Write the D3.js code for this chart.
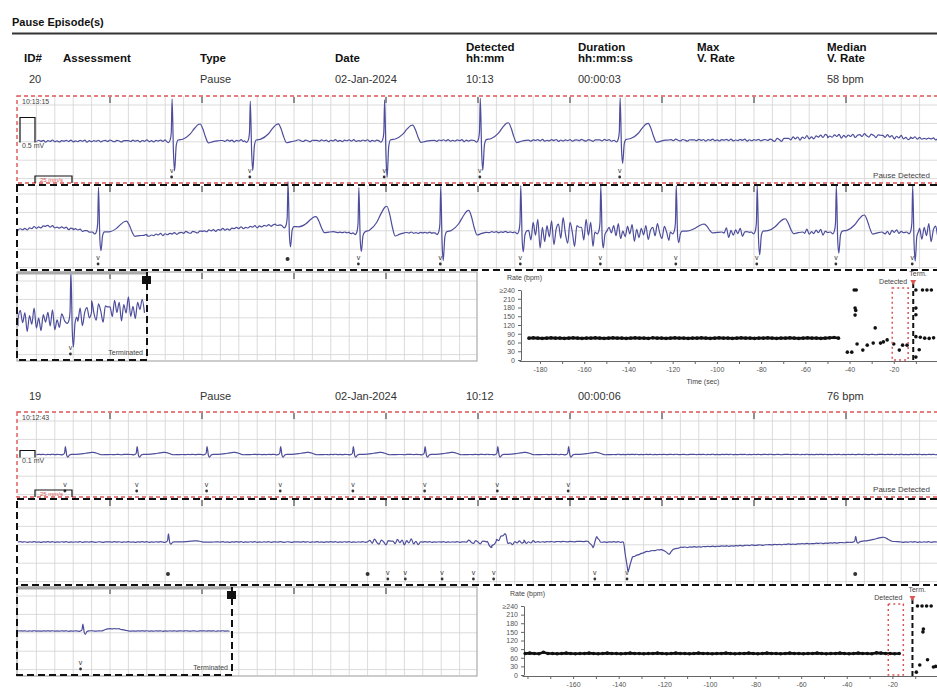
<!DOCTYPE html>
<html>
<head>
<meta charset="utf-8">
<script src="https://cdn.jsdelivr.net/npm/d3@7"></script>
<style>
body { margin: 0; background: #fff; }
svg { display: block; font-family: "Liberation Sans", Arial, sans-serif; }
.hdr { font-weight: bold; font-size: 11.5px; fill: #111; }
.val { font-size: 11px; fill: #333; }
.tiny { font-size: 7px; fill: #444; }
.grid line { stroke: #d2d2d2; stroke-width: 0.8; }
.trace { fill: none; stroke: #4d4d9c; stroke-width: 1.2; stroke-linejoin: round; }
.axis text { font-size: 7px; fill: #555; }
.axis path, .axis line { stroke: #666; }
</style>
</head>
<body>
<svg id="chart" width="937" height="693"></svg>
<script>
// ---- table text
var headerLabels = [["ID#"], ["Assessment"], ["Type"], ["Date"], ["Detected", "hh:mm"], ["Duration", "hh:mm:ss"], ["Max", "V. Rate"], ["Median", "V. Rate"]];
var ep20Row = ["20", "", "Pause", "02-Jan-2024", "10:13", "00:00:03", "", "58 bpm"];
var ep19Row = ["19", "", "Pause", "02-Jan-2024", "10:12", "00:00:06", "", "76 bpm"];
var ep20Clock = "10:13:15", ep19Clock = "10:12:43";

// ---- ecg strips (time in sec from strip start, mV)
// beats: [time, R, S, T]
var ep20S1Beats = [[1.67, 1.55, -1.1, 0.62], [2.52, 1.45, -1.1, 0.62], [3.98, 1.5, -1.35, 0.57], [5.02, 1.55, -1.1, 0.65], [6.54, 1.55, -0.85, 0.62]];
var ep20S1Drift = [[0, -0.06], [8.2, -0.02], [8.8, 0.12], [9.3, 0.15], [9.7, 0.05], [10.2, 0]];
var ep20S1Noise = [[0, 10.2, 0.04], [8.2, 9.8, 0.08]];
var ep20S1Marks = [[1.67, "v"], [2.52, "v"], [3.98, "v"], [5.02, "v"], [6.54, "v"]];

var ep20S2Beats = [[0.87, 1.7, -0.68, 0.49], [2.93, 1.7, -0.75, 0.52], [3.70, 1.7, -0.7, 1.0], [4.59, 1.75, -1.05, 0.83], [5.46, 1.75, -0.75, 0],
  [6.33, 1.75, -0.6, 0], [7.15, 1.75, -0.4, 0.3], [8.03, 1.75, -0.86, 0.5], [8.89, 1.75, -0.8, 0.64], [9.72, 1.75, -1.1, 0]];
var ep20S2Drift = [[0, -0.1], [0.3, 0.05], [0.6, -0.05], [0.8, -0.17], [1.4, -0.3], [2.0, -0.15], [2.8, 0.1], [3.2, -0.1], [3.6, -0.2], [4.5, -0.2], [5.4, -0.17], [10.2, -0.17]];
var ep20S2Noise = [[0, 2.8, 0.05], [5.55, 6.3, 0.6], [6.4, 7.1, 0.35], [7.25, 7.9, 0.2], [8.15, 8.8, 0.12], [9.0, 9.6, 0.12], [9.8, 10.2, 0.45]];
var ep20S2Marks = [[0.87, "v"], [2.93, "d"], [3.70, "v"], [4.59, "v"], [5.46, "v"], [6.33, "v"], [7.15, "v"], [8.03, "v"], [8.89, "v"], [9.72, "v"]];

var ep20S3Beats = [[0.57, 1.8, -1.0, 0]];
var ep20S3Drift = [[0, -0.15], [0.55, -0.2], [0.8, 0.15], [1.4, 0.3]];
var ep20S3Noise = [[0, 1.4, 0.45]];
var ep20S3Marks = [[0.57, "v"]];

var ep19S1Beats = [[0.51, 0.3, -0.1, 0.08], [1.29, 0.3, -0.1, 0.08], [2.05, 0.3, -0.1, 0.08], [2.85, 0.3, -0.1, 0.08],
  [3.64, 0.3, -0.1, 0.08], [4.42, 0.3, -0.1, 0.08], [5.21, 0.3, -0.1, 0.08], [5.98, 0.3, -0.1, 0.08]];
var ep19S1Drift = [[0, 0], [10.2, 0]];
var ep19S1Noise = [[0, 10.2, 0.01]];
var ep19S1Marks = [[0.51, "v"], [1.29, "v"], [2.05, "v"], [2.85, "v"], [3.64, "v"], [4.42, "v"], [5.21, "v"], [5.98, "v"]];

var ep19S2Beats = [[1.63, 0.3, -0.08, 0.04], [9.10, 0.2, -0.05, 0.1]];
var ep19S2Drift = [[0, 0], [5.1, 0], [5.15, -0.2], [5.2, 0.05], [5.29, 0.3], [5.33, -0.05], [5.5, 0], [6.2, 0.02], [6.25, -0.2], [6.29, 0.2], [6.33, 0],
  [6.58, 0], [6.63, -1.1], [6.68, -0.55], [6.84, -0.35], [7.0, -0.28], [7.08, -0.45], [7.12, -0.28], [7.2, -0.2], [7.7, -0.15], [8.42, -0.08],
  [9.0, -0.02], [9.4, 0.08], [9.6, 0], [10.2, 0]];
var ep19S2Noise = [[0, 10.2, 0.015], [3.8, 4.35, 0.12], [4.9, 5.65, 0.08]];
var ep19S2Marks = [[1.63, "d"], [3.80, "d"], [4.02, "v"], [4.21, "v"], [4.61, "v"], [4.95, "v"], [5.17, "v"], [6.27, "v"], [6.62, "v"], [9.10, "d"]];

var ep19S3Beats = [[0.70, 0.25, -0.12, 0]];
var ep19S3Drift = [[0, 0], [0.9, 0], [0.98, 0.08], [1.1, 0.08], [1.2, 0], [2.32, 0]];
var ep19S3Noise = [[0, 2.32, 0.01]];
var ep19S3Marks = [[0.68, "v"]];

// shape of one beat: [dt, part, factor]
var beatShape = [[-0.06, "r", 0], [-0.035, "r", -0.04], [-0.015, "r", 0.03], [-0.004, "r", 0.2], [0.005, "r", 1],
  [0.02, "s", 0.4], [0.032, "s", 1], [0.05, "s", 0.15], [0.07, "r", 0.02],
  [0.12, "w", 0.1], [0.2, "w", 0.4], [0.25, "w", 0.75], [0.29, "w", 0.97], [0.31, "w", 1], [0.34, "w", 0.7], [0.37, "w", 0.2], [0.4, "w", -0.12], [0.45, "w", -0.05], [0.5, "w", 0]];
var jitter = [0.3, -0.5, 0.8, -0.2, 0.6, -0.9, 0.4, -0.3, 1.0, -0.6, 0.2, -0.8, 0.5, -0.1, 0.7, -0.4, 0.9, -0.7, 0.1, -0.5, 0.6,
  -0.2, 0.8, -1.0, 0.3, -0.6, 0.4, -0.3, 0.7, -0.8, 0.2, 0.5, -0.4, 0.9, -0.1, -0.7, 0.6, 0.0, -0.9, 0.4, 0.3];

// ---- rate charts (bpm, one value each 2 sec from the start time)
var rateTicks = [0, 30, 60, 90, 120, 150, 180, 210, 240];
var ep20RateStart = -185;
var ep20Rate = [75, 76, 75, 74, 75, 76, 75, 75, 74, 75,
  76, 75, 74, 75, 75, 76, 75, 74, 75, 76,
  75, 75, 74, 75, 76, 75, 75, 74, 76, 75,
  75, 74, 75, 76, 75, 75, 74, 75, 75, 76,
  75, 74, 75, 76, 75, 75, 74, 75, 76, 75,
  75, 74, 75, 75, 76, 75, 74, 75, 75, 76,
  75, 74, 75, 76, 75, 75, 74, 75, 76, 77, 75];
var ep20Scatter = [[-41, 27], [-39, 27], [-37.9, 240], [-37, 240], [-37.5, 178], [-37.2, 170], [-37.5, 154], [-36.6, 55], [-34, 34], [-32, 51],
  [-29.3, 58], [-28.4, 110], [-26, 58], [-24.7, 62], [-23, 69], [-20, 55], [-17.5, 34], [-16, 51], [-14, 51],
  [-10, 240], [-7, 240], [-5, 240], [-3, 240], [-10, 178], [-10, 155], [-10, 80], [-8, 78], [-6, 75], [-4, 74], [-2, 76], [-8.5, 35], [-10, 10]];
var ep20Detect = [-20.7, -13.5], ep20Term = -11.2;
var ep20TimeLabels = [-180, -160, -140, -120, -100, -80, -60, -40, -20];

var ep19RateStart = -181;
var ep19Rate = [75, 76, 75, 74, 79, 75, 75, 74, 75, 76,
  75, 74, 75, 75, 76, 75, 74, 75, 76, 75,
  75, 74, 75, 76, 75, 75, 74, 75, 75, 76,
  75, 74, 75, 76, 75, 75, 74, 75, 76, 75,
  75, 74, 75, 75, 76, 75, 74, 75, 75, 76,
  75, 74, 75, 76, 75, 75, 74, 75, 76, 75,
  75, 74, 75, 75, 76, 75, 74, 75, 75, 76,
  75, 74, 75, 76, 75, 75, 74, 77, 76, 75,
  75, 74, 75];
var ep19Scatter = [[-9, 240], [-7, 240], [-5, 240], [-3, 240], [-6.4, 160], [-6.6, 150], [-4.6, 53], [-8, 35], [-2, 28], [-1, 30], [-9.5, 10]];
var ep19Detect = [-21.8, -15.2], ep19Term = -11.2;
var ep19TimeLabels = [-160, -140, -120, -100, -80, -60, -40, -20];

window.onload = function() {
	var svg = d3.select("#chart");
	var red = "#dd5555";
	var colX = [24, 63, 200, 335, 466, 578, 697, 827];
	var xT = d3.scaleLinear().domain([0, 10]).range([18, 938]);

	// title
	svg.append("text").attr("class", "hdr").attr("x", 12).attr("y", 26).style("font-size", "11px").text("Pause Episode(s)");
	svg.append("line").attr("x1", 12).attr("x2", 937).attr("y1", 33.5).attr("y2", 33.5).attr("stroke", "#333").attr("stroke-width", 1.8);

	// column headers
	headerLabels.forEach(function(lab, i) {
		lab.forEach(function(t, j) {
			svg.append("text").attr("class", "hdr").attr("x", colX[i])
				.attr("y", 62 - (lab.length - 1 - j) * 11).text(t);
		});
	});

	function drawRow(row, y) {
		row.forEach(function(t, i) {
			svg.append("text").attr("class", "val").attr("x", i == 0 ? colX[0] + 5 : colX[i]).attr("y", y).text(t);
		});
	}

	function buildTrace(beatsIn, drift, noise, from, to) {
		var base = d3.scaleLinear().domain(drift.map(function(d) { return d[0]; }))
			.range(drift.map(function(d) { return d[1]; })).clamp(true);
		var beats = beatsIn.map(function(b) { return {at: b[0], r: b[1], s: b[2], w: b[3]}; });
		function inBeat(t) {
			return beats.some(function(b) { return t > b.at - 0.07 && t < b.at + (b.w ? 0.52 : 0.08); });
		}
		var pts = [], i = 0;
		for (var t = from; t <= to + 1e-6; t += 0.025) {
			i++;
			if (inBeat(t)) continue;
			var amp = 0.03;
			noise.forEach(function(n) { if (t >= n[0] && t <= n[1]) amp = n[2]; });
			pts.push([t, base(t) + jitter[i % jitter.length] * amp]);
		}
		drift.forEach(function(d) {
			if (d[0] >= from && d[0] <= to && !inBeat(d[0])) pts.push([d[0], d[1]]);
		});
		beats.forEach(function(b) {
			beatShape.forEach(function(s) {
				if (!b.w && s[0] > 0.07) return;
				var t = b.at + s[0];
				if (t < from || t > to) return;
				pts.push([t, base(t) + s[2] * b[s[1]]]);
			});
		});
		pts.sort(function(a, b) { return a[0] - b[0]; });
		return pts;
	}

	function drawGrid(x0, x1, y0, y1) {
		var g = svg.append("g").attr("class", "grid");
		var vx = d3.range(0, 10.4, 0.2).map(xT).filter(function(x) { return x > x0 + 1 && x < x1 - 1; });
		g.selectAll(".gv").data(vx).enter().append("line")
			.attr("x1", function(d) { return d; }).attr("x2", function(d) { return d; })
			.attr("y1", y0).attr("y2", y1);
		var hy = d3.range(y0 + 9, y1 - 2, 18.4);
		g.selectAll(".gh").data(hy).enter().append("line")
			.attr("x1", x0).attr("x2", x1)
			.attr("y1", function(d) { return d; }).attr("y2", function(d) { return d; });
		// second ticks at the top
		var sx = d3.range(1, 11).map(xT).filter(function(x) { return x > x0 + 2 && x < x1; });
		svg.append("g").selectAll("line").data(sx).enter().append("line")
			.attr("x1", function(d) { return d; }).attr("x2", function(d) { return d; })
			.attr("y1", y0 + 1).attr("y2", y0 + 7).attr("stroke", "#333").attr("stroke-width", 1);
	}

	function drawTrace(beats, drift, noise, marks, from, to, y0, y1) {
		var ys = d3.scaleLinear().domain([-1.6, 1.6]).range([y1, y0]);
		var line = d3.line().curve(d3.curveMonotoneX)
			.x(function(d) { return xT(d[0]); }).y(function(d) { return ys(d[1]); });
		svg.append("path").datum(buildTrace(beats, drift, noise, from, to)).attr("class", "trace").attr("d", line);
		var mg = svg.append("g");
		marks.forEach(function(m) {
			if (m[1] == "v") {
				mg.append("text").attr("x", xT(m[0])).attr("y", y1 - 10).attr("text-anchor", "middle")
					.style("font-size", "7px").attr("fill", "#333").text("v");
				mg.append("circle").attr("cx", xT(m[0])).attr("cy", y1 - 6).attr("r", 1.4).attr("fill", "#333");
			} else {
				mg.append("circle").attr("cx", xT(m[0])).attr("cy", y1 - 11).attr("r", 2).attr("fill", "#333");
			}
		});
	}

	function drawRate(cfg, rate, start, scatter, detect, term, labels) {
		var x = d3.scaleLinear().domain(cfg.rateDomain).range(cfg.rateX);
		var y = d3.scaleLinear().domain([0, 240]).range(cfg.rateY);
		var g = svg.append("g");
		var minor = d3.range(-180, 1, 10).filter(function(d) { return d >= cfg.rateDomain[0]; });
		g.append("g").attr("class", "axis").attr("transform", "translate(0," + (cfg.rateY[0] + 1) + ")")
			.call(d3.axisBottom(x).tickValues(minor).tickSize(3).tickSizeOuter(0)
				.tickFormat(function(d) { return labels.indexOf(d) >= 0 ? d : ""; }));
		g.append("g").attr("class", "axis").attr("transform", "translate(" + (cfg.rateX[0] + 2) + ",0)")
			.call(d3.axisLeft(y).tickValues(rateTicks).tickSize(3).tickSizeOuter(0)
				.tickFormat(function(d) { return d == 240 ? "\u2265240" : d; }));
		g.append("text").attr("class", "tiny").attr("x", cfg.rateX[0] - 12).attr("y", cfg.rateY[1] - 10).text("Rate (bpm)");
		if (cfg.rateY[0] + 24 < 690) {
			g.append("text").attr("class", "tiny").attr("x", 703).attr("y", cfg.rateY[0] + 24).attr("text-anchor", "middle").text("Time (sec)");
		}

		var pts = rate.map(function(v, i) { return [start + i * 2, v]; });
		g.append("path").datum(pts).attr("fill", "none").attr("stroke", "#111").attr("stroke-width", 2.6)
			.attr("d", d3.line().x(function(d) { return x(d[0]); }).y(function(d) { return y(d[1]); }));
		g.selectAll(".dot").data(pts.concat(scatter)).enter().append("circle")
			.attr("cx", function(d) { return x(d[0]); }).attr("cy", function(d) { return y(d[1]); })
			.attr("r", 1.8).attr("fill", "#111");

		// detected window and termination
		g.append("rect").attr("x", x(detect[0])).attr("y", cfg.rateY[1] - 2)
			.attr("width", x(detect[1]) - x(detect[0])).attr("height", cfg.rateY[0] - cfg.rateY[1] + 2)
			.attr("fill", "none").attr("stroke", red).attr("stroke-width", 1.5).attr("stroke-dasharray", "2,3");
		g.append("line").attr("x1", x(term)).attr("x2", x(term)).attr("y1", cfg.rateY[1] - 7).attr("y2", cfg.rateY[0] + 2)
			.attr("stroke", "#111").attr("stroke-width", 2).attr("stroke-dasharray", "5,3");
		g.append("path").attr("d", "M" + (x(term) - 3) + "," + (cfg.rateY[1] - 10) + "h6l-3,5z").attr("fill", red);
		g.append("text").attr("class", "tiny").attr("x", x(detect[1]) - 1).attr("y", cfg.rateY[1] - 6)
			.attr("text-anchor", "end").text("Detected");
		g.append("text").attr("class", "tiny").attr("x", x(term) - 4).attr("y", cfg.rateY[1] - 14).text("Term.");
	}

	function drawEpisode(cfg) {
		drawRow(cfg.row, cfg.rowY);
		var s1 = cfg.s1, s2 = cfg.s2, s3 = cfg.s3;

		// strip 1
		drawGrid(17, 937, s1[0], s1[1]);
		drawTrace(cfg.b1, cfg.d1, cfg.n1, cfg.m1, 0.2, 10.2, s1[0], s1[1]);
		svg.append("rect").attr("x", 17).attr("y", s1[0]).attr("width", 925).attr("height", s1[1] - s1[0])
			.attr("fill", "none").attr("stroke", red).attr("stroke-width", 1.4).attr("stroke-dasharray", "4,3");
		var mid = (s1[0] + s1[1]) / 2;
		svg.append("path").attr("d", "M20," + (mid + 3) + "V" + (mid - cfg.cal) + "H35V" + (mid + 3))
			.attr("fill", "none").attr("stroke", "#111").attr("stroke-width", 1.2);
		svg.append("text").attr("class", "tiny").attr("x", 22).attr("y", s1[0] + 8).text(cfg.clock);
		svg.append("text").attr("class", "tiny").attr("x", 22).attr("y", mid + 8).text(cfg.mv);
		svg.append("path").attr("d", "M35," + s1[1] + "V" + (s1[1] - 7) + "H72V" + s1[1])
			.attr("fill", "none").attr("stroke", "#111").attr("stroke-width", 1.2);
		svg.append("text").attr("x", 40).attr("y", s1[1] - 1).style("font-size", "6px").attr("fill", red).text("25 mm/s");
		svg.append("text").attr("class", "tiny").attr("x", 930).attr("y", s1[1] - 5).attr("text-anchor", "end")
			.style("font-size", "8px").text("Pause Detected");

		// strip 2
		drawGrid(17, 937, s2[0], s2[1]);
		drawTrace(cfg.b2, cfg.d2, cfg.n2, cfg.m2, 0, 10.2, s2[0], s2[1]);
		svg.append("rect").attr("x", 17).attr("y", s2[0]).attr("width", 925).attr("height", s2[1] - s2[0])
			.attr("fill", "none").attr("stroke", "#111").attr("stroke-width", 2).attr("stroke-dasharray", "7,4");

		// strip 3 with terminated box
		drawGrid(17, 477, s3[0], s3[1]);
		drawTrace(cfg.b3, cfg.d3, cfg.n3, cfg.m3, 0, xT.invert(cfg.boxX - 1), s3[0], s3[1]);
		svg.append("rect").attr("x", 17).attr("y", s3[0]).attr("width", 460).attr("height", s3[1] - s3[0] + 1)
			.attr("fill", "none").attr("stroke", "#aaa").attr("stroke-width", 1.2);
		svg.append("line").attr("x1", 17).attr("x2", cfg.boxX).attr("y1", s3[0] + 1).attr("y2", s3[0] + 1)
			.attr("stroke", "#aaa").attr("stroke-width", 3);
		svg.append("path").attr("d", "M" + cfg.boxX + "," + s3[0] + "V" + s3[1] + "H17V" + s3[0])
			.attr("fill", "none").attr("stroke", "#111").attr("stroke-width", 2).attr("stroke-dasharray", "7,4");
		svg.append("rect").attr("x", cfg.boxX - 5).attr("y", s3[0] + 4).attr("width", 9).attr("height", 8).attr("fill", "#111");
		svg.append("text").attr("class", "tiny").attr("x", cfg.boxX - 4).attr("y", s3[1] - 5).attr("text-anchor", "end").text("Terminated");

		drawRate(cfg, cfg.rate, cfg.rateStart, cfg.scatter, cfg.detect, cfg.term, cfg.labels);
	}

	drawEpisode({row: ep20Row, rowY: 83, clock: ep20Clock, mv: "0.5 mV", cal: 22,
		s1: [96, 183], s2: [185, 270], s3: [272, 360], boxX: 147,
		b1: ep20S1Beats, d1: ep20S1Drift, n1: ep20S1Noise, m1: ep20S1Marks,
		b2: ep20S2Beats, d2: ep20S2Drift, n2: ep20S2Noise, m2: ep20S2Marks,
		b3: ep20S3Beats, d3: ep20S3Drift, n3: ep20S3Noise, m3: ep20S3Marks,
		rateX: [519, 938], rateY: [360, 290], rateDomain: [-189.5, 0],
		rate: ep20Rate, rateStart: ep20RateStart, scatter: ep20Scatter, detect: ep20Detect, term: ep20Term, labels: ep20TimeLabels});

	drawEpisode({row: ep19Row, rowY: 400, clock: ep19Clock, mv: "0.1 mV", cal: 4,
		s1: [412, 497], s2: [499, 585], s3: [587, 675], boxX: 232,
		b1: ep19S1Beats, d1: ep19S1Drift, n1: ep19S1Noise, m1: ep19S1Marks,
		b2: ep19S2Beats, d2: ep19S2Drift, n2: ep19S2Noise, m2: ep19S2Marks,
		b3: ep19S3Beats, d3: ep19S3Drift, n3: ep19S3Noise, m3: ep19S3Marks,
		rateX: [522, 938], rateY: [675, 606], rateDomain: [-182.4, 0],
		rate: ep19Rate, rateStart: ep19RateStart, scatter: ep19Scatter, detect: ep19Detect, term: ep19Term, labels: ep19TimeLabels});
}
</script>
</body>
</html>
